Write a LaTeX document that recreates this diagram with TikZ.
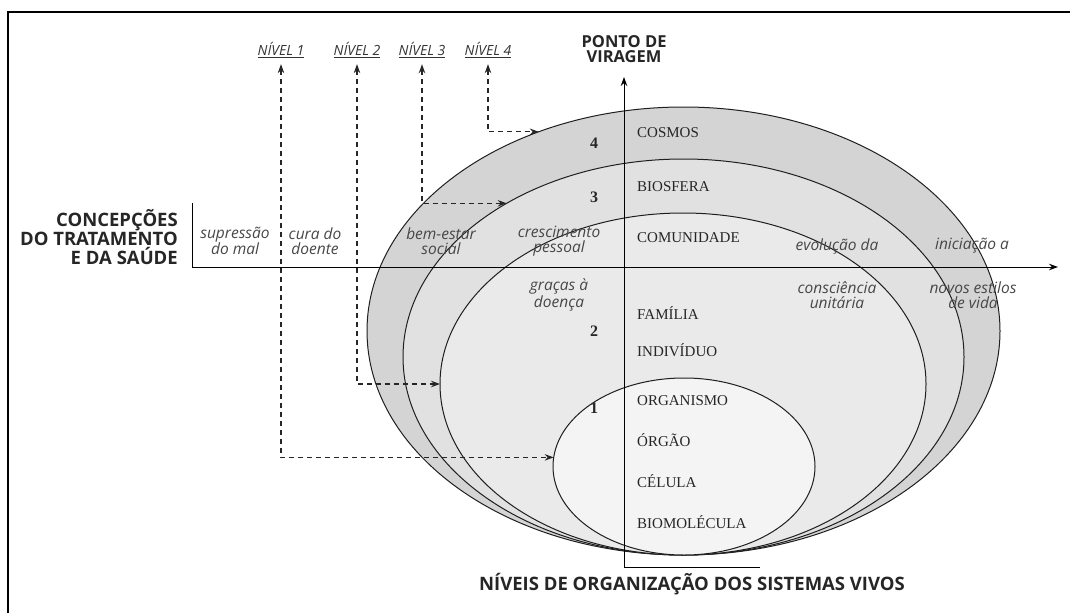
\documentclass[tikz,border=0pt]{standalone}
\usepackage{fontspec}
\setsansfont{Open Sans}
\newfontfamily\capsfont{Liberation Serif}
\usetikzlibrary{arrows.meta,positioning,shapes.geometric}
\definecolor{ringfour}{RGB}{212,212,212}
\definecolor{ringthree}{RGB}{225,225,225}
\definecolor{ringtwo}{RGB}{234,234,234}
\definecolor{ringone}{RGB}{244,244,244}

\begin{document}
\begin{tikzpicture}[x=1pt,y=-1pt,>={Stealth[length=9pt,width=6.5pt]},node distance=41pt,on grid]
\useasboundingbox (0,0) rectangle (1070,613);
\tikzset{ring/.style={ellipse,draw=black!88,line width=1pt,inner sep=0pt,outer sep=0pt}}
\tikzset{lvl/.style={font=\capsfont\fontsize{15}{15}\selectfont,text=black!85,anchor=west,inner sep=0pt,text height=9.9pt,text depth=0pt}}
\tikzset{num/.style={font=\capsfont\bfseries\fontsize{16}{16}\selectfont,text=black!85}}
\tikzset{ital/.style={font=\sffamily\itshape\fontsize{15.5}{15}\selectfont,text=black!72,align=center,inner sep=0pt}}
\tikzset{head/.style={font=\sffamily\bfseries\fontsize{18.5}{16}\selectfont,text=black!85,inner sep=0pt}}
\tikzset{nivel/.style={font=\sffamily\itshape\fontsize{14}{14}\selectfont,text=black!80}}
\tikzset{lead/.style={<->,dash pattern=on 5pt off 4pt,line width=1.1pt,draw=black!85,shorten <=3pt}}

\draw[line width=1.2pt] (8,613) -- (8,12) -- (1070,12);

\node[ring,fill=ringfour,minimum width=633pt,minimum height=448pt] (e4) at (683.5,331) {};
\node[ring,fill=ringthree,minimum width=561pt,minimum height=396pt] (e3) at (683.5,357) {};
\node[ring,fill=ringtwo,minimum width=486pt,minimum height=342pt] (e2) at (683,384) {};
\node[ring,fill=ringone,minimum width=262pt,minimum height=177pt] (e1) at (684,466.5) {};

\coordinate (tick) at (192,203);
\coordinate (hO) at (192,267);
\coordinate (hE) at (1058,267);
\coordinate (vS) at (760,567);
\coordinate (vO) at (624,567);
\coordinate (vE) at (624,77);
\draw[->,line width=1pt] (tick) -- (hO) -- (hE);
\draw[->,line width=1pt] (vS) -- (vO) -- (vE);

\node[nivel] (n1) at (281,50) {\underline{NÍVEL 1}};
\node[nivel] (n2) at (357,50) {\underline{NÍVEL 2}};
\node[nivel] (n3) at (422,50) {\underline{NÍVEL 3}};
\node[nivel] (n4) at (488,50) {\underline{NÍVEL 4}};
\draw[lead] (n1) |- (e1.176.1);
\draw[lead] (n2) |- (e2.west);
\draw[lead] (n3) |- (e3.139.9);
\draw[lead] (n4) |- (e4.126.5);

\node[num] (r4) at (594,143) {4};
\node[num] (r3) at (594,197) {3};
\node[num] (r2) at (594,331) {2};
\node[num] (r1) at (594,408) {1};

\node[lvl] (cosmos) at (637,133) {COSMOS};
\node[lvl] (biosfera) at (637,187) {BIOSFERA};
\node[lvl] (comunidade) at (637,238) {COMUNIDADE};
\node[lvl] (familia) at (637,315) {FAMÍLIA};
\node[lvl] (individuo) at (637,352) {INDIVÍDUO};
\node[lvl] (organismo) at (637,401) {ORGANISMO};
\node[lvl] (orgao) [below=of organismo.west,anchor=west] {ÓRGÃO};
\node[lvl] (celula) [below=of orgao.west,anchor=west] {CÉLULA};
\node[lvl] (biomolecula) [below=of celula.west,anchor=west] {BIOMOLÉCULA};

\node[ital] (supressao) at (235,241) {supressão\\do mal};
\node[ital] (cura) at (315,241) {cura do\\doente};
\node[ital] (bemestar) at (441,241) {bem-estar\\social};
\node[ital] (crescimento) at (559,241) {crescimento\\pessoal};
\node[ital] (gracas) at (559,295) {graças à\\doença};
\node[ital] (evolucao) at (837,246) {evolução da};
\node[ital] (consciencia) at (837,295) {consciência\\unitária};
\node[ital] (iniciacao) at (972,246) {iniciação a};
\node[ital] (novos) at (973,295) {novos estilos\\de vida};

\node[head,align=right,anchor=east] (concepcoes) at (178,237) {CONCEPÇÕES\\DO TRATAMENTO\\E DA SAÚDE};
\node[head,align=center,font=\sffamily\bfseries\fontsize{16.5}{15}\selectfont] (ponto) at (624,49) {PONTO DE\\VIRAGEM};
\node[head] (niveis) at (692,584) {NÍVEIS DE ORGANIZAÇÃO DOS SISTEMAS VIVOS};
\end{tikzpicture}
\end{document}
